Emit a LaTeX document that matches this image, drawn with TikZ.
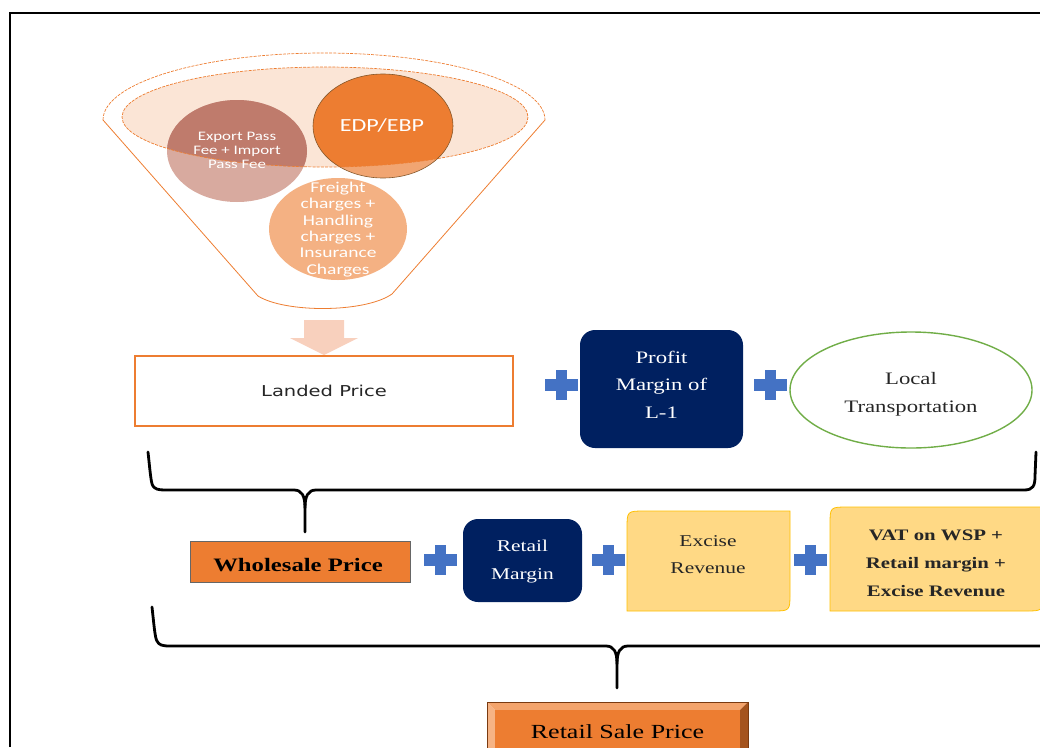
\documentclass[tikz,border=0pt]{standalone}
\usepackage{fontspec}
\newfontfamily\lpfont{DejaVu Sans}
\newfontfamily\cfont{Carlito}
\newfontfamily\sfont{Liberation Serif}
\usetikzlibrary{shapes.geometric}
\newcommand\strx[1]{\scalebox{1.3}[1]{\begin{tabular}{@{}c@{}}#1\end{tabular}}}
\definecolor{orng}{HTML}{ED7D31}
\definecolor{navyc}{HTML}{002060}
\definecolor{pblue}{HTML}{4472C4}
\definecolor{goldf}{HTML}{FFD985}
\definecolor{golde}{HTML}{FFC000}
\definecolor{peach}{HTML}{FBE5D6}
\definecolor{grn}{HTML}{70AD47}
\definecolor{expup}{HTML}{BF7B6C}
\definecolor{explo}{HTML}{D8AA9F}
\definecolor{edplo}{HTML}{F1A572}
\definecolor{frt}{HTML}{F4B183}
\definecolor{arrowc}{HTML}{F8D0BD}
\definecolor{bevtop}{HTML}{F4A46C}
\definecolor{bevleft}{HTML}{F6B384}
\definecolor{bevright}{HTML}{A4531D}
\definecolor{bevedge}{HTML}{7A3A10}
\tikzset{
  plush/.style={fill=pblue, minimum width=33, minimum height=12, inner sep=0},
  plusv/.style={fill=pblue, minimum width=11, minimum height=30, inner sep=0},
  navybox/.style={fill=navyc, rounded corners=15, text=white, align=center, inner sep=0},
  goldbox/.style={fill=goldf, draw=golde, line width=0.8},
  brace/.style={line width=2.8, line join=round, line cap=round},
  txt/.style={align=center, inner sep=0}
}
\begin{document}
\begin{tikzpicture}[x=1pt, y=-1pt]
\useasboundingbox (0,0) rectangle (1040,747);
\clip (0,0) rectangle (1040,747);
% frame
\draw[line width=2] (10,747) -- (10,13) -- (1045,13);
% funnel outline
\draw[orng, line width=0.7, dash pattern=on 3 off 1.2] (103,120) arc[start angle=180, end angle=360, x radius=221, y radius=67];
\draw[orng, line width=0.8] (103,120) -- (258,296) .. controls (285,313) and (365,313) .. (392,294) -- (545,120);
% inner ellipse
\fill[peach] (325,117) ellipse [x radius=203, y radius=50];
% circles lower colours
\fill[explo] (237,151) ellipse [x radius=70, y radius=51];
\fill[edplo] (383,126) ellipse [x radius=70, y radius=52];
\fill[frt] (338,229) ellipse [x radius=69, y radius=51];
\begin{scope}
  \clip (325,117) ellipse [x radius=203, y radius=50];
  \fill[expup] (237,151) ellipse [x radius=70, y radius=51];
  \fill[orng] (383,126) ellipse [x radius=70, y radius=52];
\end{scope}
\draw[brown!70!black, line width=0.6] (383,126) ellipse [x radius=70, y radius=52];
\draw[orng, line width=0.7, dash pattern=on 3 off 1.2] (325,117) ellipse [x radius=203, y radius=50];
\node[txt, text=white, font=\cfont\fontsize{13}{14}\selectfont] (exp) at (237,152) {\strx{Export Pass\\Fee + Import\\Pass Fee}};
\node[txt, text=white, font=\cfont\fontsize{18.5}{20}\selectfont] (edp) at (382,127) {\strx{EDP/EBP}};
\node[txt, text=white, font=\cfont\fontsize{15}{16.3}\selectfont] (frt) at (338,230) {\strx{Freight\\charges +\\Handling\\charges +\\Insurance\\Charges}};
% arrow
\fill[arrowc] (304,320) -- (344,320) -- (344,338) -- (358,338) -- (324,355) -- (290,338) -- (304,338) -- cycle;
% landed price
\node[draw=orng, line width=2, minimum width=378, minimum height=70, inner sep=0] (landed) at (324,391) {};
\node[txt, text=black!85, font=\lpfont\fontsize{15}{18}\selectfont] (landedt) at (324,393) {\strx{Landed Price}};
% plus 1,2
\node[plush] (p1) at (561,385) {}; \node[plusv] at (p1) {};
\node[plush] (p2) at (770,385) {}; \node[plusv] at (p2) {};
% profit box
\node[navybox, minimum width=163, minimum height=118] (profit) at (661.5,389) {};
\node[txt, text=white, font=\sfont\fontsize{17.5}{27.5}\selectfont] (profitt) at (661.5,385) {\strx{Profit\\Margin of\\L-1}};
% local transportation
\node[ellipse, draw=grn, line width=1.4, minimum width=242, minimum height=116, inner sep=0] (local) at (911,390) {};
\node[txt, text=black!85, font=\sfont\fontsize{17.5}{28}\selectfont] (localt) at (911,393) {\strx{Local\\Transportation}};
% brace 1
\draw[brace] (148,452) .. controls (150,470) and (151,484) .. (153,486) .. controls (155,489) and (158,490) .. (165,490) -- (294,490) .. controls (302,490) and (305,496) .. (305,508) -- (305,532);
\draw[brace] (305,508) .. controls (305,496) and (308,490) .. (316,490) -- (1024,490) .. controls (1033,490) and (1035,486) .. (1035,476) -- (1036,452);
% wholesale
\node[fill=orng, draw=black!60, line width=0.6, minimum width=220, minimum height=41, inner sep=0] (whole) at (300,561.5) {};
\node[txt, font=\sfont\bfseries\fontsize{19}{22}\selectfont] (wholet) at (298,567) {\strx{Wholesale Price}};
\node[plush] (p3) at (440,560) {}; \node[plusv] at (p3) {};
% retail margin
\node[navybox, minimum width=119, minimum height=83] (rmargin) at (522.5,560.5) {};
\node[txt, text=white, font=\sfont\fontsize{16.5}{28}\selectfont] (rmargint) at (522.5,560) {\strx{Retail\\Margin}};
\node[plush] (p4) at (608,560) {}; \node[plusv] at (p4) {};
% excise
\draw[goldbox] (627,611) -- (627,529) .. controls (627,511) .. (645,511) -- (790,511) -- (790,593) .. controls (790,611) .. (772,611) -- cycle;
\node[txt, text=black!85, font=\sfont\fontsize{16.5}{27}\selectfont] (excise) at (708,555) {\strx{Excise\\Revenue}};
\node[plush] (p5) at (810,560) {}; \node[plusv] at (p5) {};
% vat
\draw[goldbox] (830,611) -- (830,525) .. controls (830,507) .. (848,507) -- (1043,507) -- (1043,593) .. controls (1043,611) .. (1025,611) -- cycle;
\node[txt, text=black!85, font=\sfont\bfseries\fontsize{16}{28}\selectfont] (vat) at (936,563) {\strx{VAT on WSP +\\Retail margin +\\Excise Revenue}};
% brace 2
\draw[brace] (152,607) .. controls (154,625) and (155,638) .. (157,641) .. controls (159,645) and (162,646) .. (170,646) -- (606,646) .. controls (614,646) and (617,652) .. (617,664) -- (617,688);
\draw[brace] (617,664) .. controls (617,652) and (620,646) .. (628,646) -- (1045,646);
% retail sale price bevel
\fill[bevtop] (487,702) -- (748,702) -- (740,710) -- (495,710) -- cycle;
\fill[bevleft] (487,702) -- (495,710) -- (495,760) -- (487,760) -- cycle;
\fill[bevright] (748,702) -- (748,760) -- (740,760) -- (740,710) -- cycle;
\fill[orng] (495,710) rectangle (740,760);
\draw[bevedge, line width=0.6] (487,702) rectangle (748,760);
\node[txt, font=\sfont\fontsize{20}{24}\selectfont] (rsp) at (617.5,734) {\strx{Retail Sale Price}};
\end{tikzpicture}
\end{document}
